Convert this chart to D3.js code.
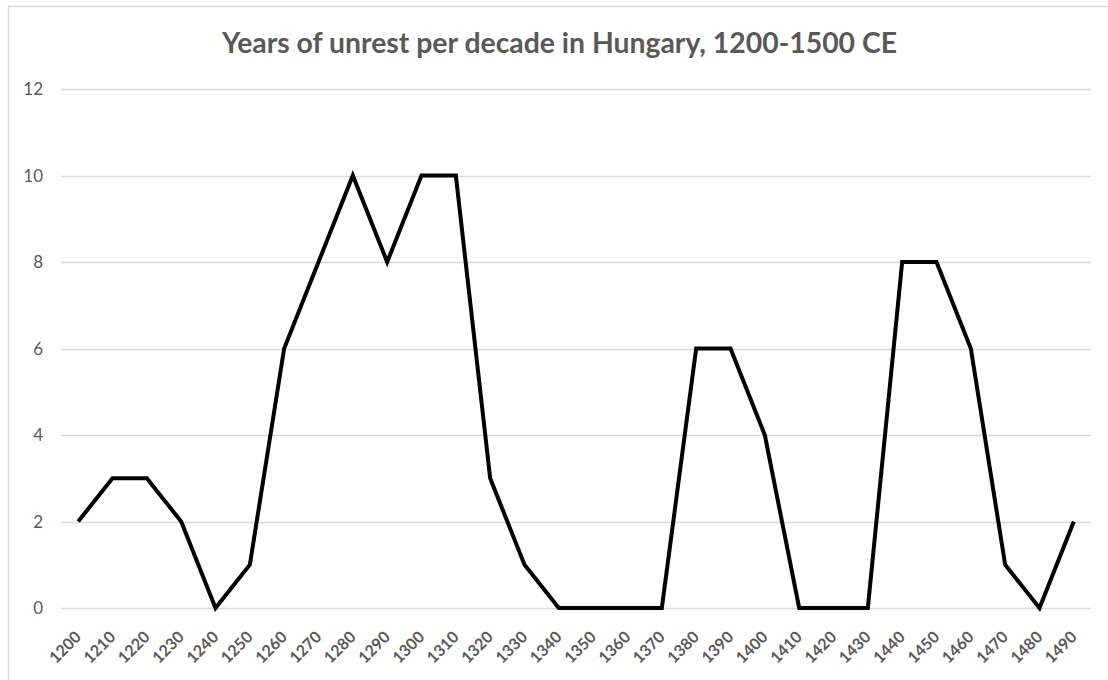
<!DOCTYPE html>
<html>
<head>
<meta charset="utf-8">
<script src="https://cdn.jsdelivr.net/npm/d3@7"></script>
<style>
  body { margin: 0; background: #fff; }
  svg { display: block; }
</style>
</head>
<body>
<svg id="chart"></svg>
<script>
const totalWidth = 1108;
const totalHeight = 680;

// data
const decades = ["1200", "1210", "1220", "1230", "1240", "1250", "1260", "1270", "1280", "1290",
    "1300", "1310", "1320", "1330", "1340", "1350", "1360", "1370", "1380", "1390",
    "1400", "1410", "1420", "1430", "1440", "1450", "1460", "1470", "1480", "1490"];
const unrestYears = [2, 3, 3, 2, 0, 1, 6, 8, 10, 8,
    10, 10, 3, 1, 0, 0, 0, 0, 6, 6,
    4, 0, 0, 0, 8, 8, 6, 1, 0, 2];
const yTicks = [0, 2, 4, 6, 8, 10, 12];
const chartTitle = "Years of unrest per decade in Hungary, 1200-1500 CE";

const svg = d3.select("#chart")
    .attr("width", totalWidth)
    .attr("height", totalHeight);

const fontFamily = "Lato, 'Open Sans', 'Liberation Sans', sans-serif";
const textColor = "#595959";

// chart border
svg.append("rect")
    .attr("x", 8.5)
    .attr("y", 6.5)
    .attr("width", 1120)
    .attr("height", 700)
    .style("fill", "#fff")
    .style("stroke", "#d9d9d9")
    .style("stroke-width", 1.5);

// plot area
const plotLeft = 61, plotRight = 1091, plotTop = 89, plotBottom = 608;

const x = d3.scaleBand()
    .domain(decades)
    .range([plotLeft, plotRight]);

const y = d3.scaleLinear()
    .domain([0, 12])
    .range([plotBottom, plotTop]);

// title
svg.append("text")
    .attr("x", 559.5)
    .attr("y", 53)
    .attr("text-anchor", "middle")
    .attr("fill", textColor)
    .attr("font-family", fontFamily)
    .attr("font-weight", "bold")
    .attr("font-size", "28px")
    .attr("textLength", 675)
    .attr("lengthAdjust", "spacingAndGlyphs")
    .text(chartTitle);

// gridlines
svg.append("g")
    .selectAll("line")
    .data(yTicks)
    .enter()
    .append("line")
    .attr("x1", plotLeft)
    .attr("x2", plotRight)
    .attr("y1", d => Math.round(y(d)) + 0.5)
    .attr("y2", d => Math.round(y(d)) + 0.5)
    .style("stroke", "#d9d9d9")
    .style("stroke-width", 1.5);

// y labels
svg.append("g")
    .selectAll("text")
    .data(yTicks)
    .enter()
    .append("text")
    .attr("x", 43)
    .attr("y", d => y(d))
    .attr("dy", "0.36em")
    .attr("text-anchor", "end")
    .attr("fill", textColor)
    .attr("font-family", fontFamily)
    .attr("font-size", "17px")
    .text(d => d);

// x labels
svg.append("g")
    .selectAll("text")
    .data(decades)
    .enter()
    .append("text")
    .attr("transform", d => `translate(${x(d) + x.bandwidth() / 2 + 4},${638}) rotate(-45)`)
    .attr("text-anchor", "end")
    .attr("fill", textColor)
    .attr("font-family", fontFamily)
    .attr("font-weight", "bold")
    .attr("font-size", "16px")
    .text(d => d);

// line
const line = d3.line()
    .x((d, i) => x(decades[i]) + x.bandwidth() / 2)
    .y(d => y(d));

svg.append("path")
    .datum(unrestYears)
    .attr("d", line)
    .style("fill", "none")
    .style("stroke", "#000")
    .style("stroke-width", 4)
    .style("stroke-linejoin", "miter");
</script>
</body>
</html>
